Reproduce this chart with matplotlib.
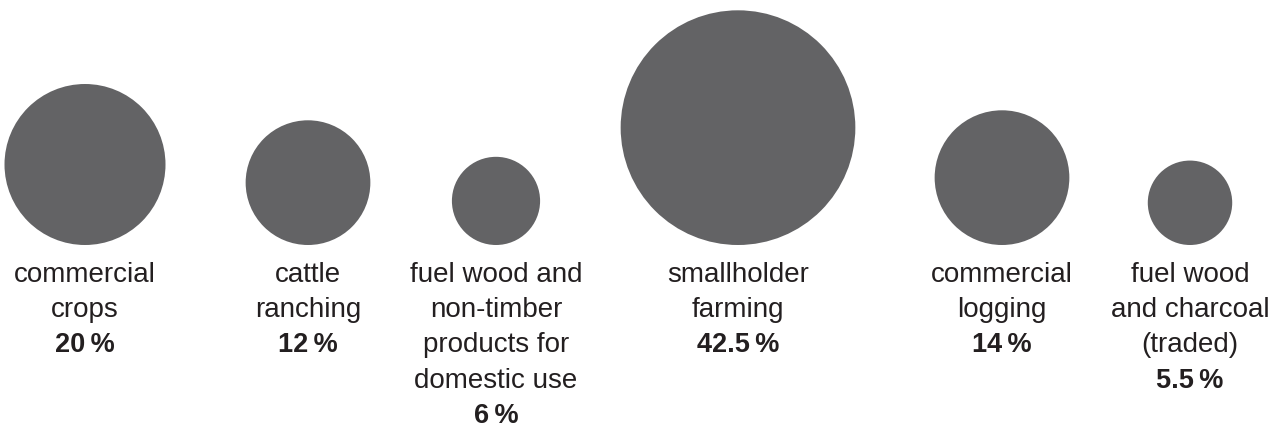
import numpy as np
import matplotlib.pyplot as plt
from matplotlib.patches import Circle

# share of deforestation by driver (circle area ~ value)
labels = [
    ["commercial", "crops"],
    ["cattle", "ranching"],
    ["fuel wood and", "non-timber", "products for", "domestic use"],
    ["smallholder", "farming"],
    ["commercial", "logging"],
    ["fuel wood", "and charcoal", "(traded)"],
]
values = [20, 12, 6, 42.5, 14, 5.5]
value_text = ["20", "12", "6", "42.5", "14", "5.5"]

# horizontal layout (pixel centres)
centers_x = [85, 308, 496, 738, 1002, 1190]

W, H = 1287, 430
grey = "#636365"
txt = "#231f20"
fonts = ["Liberation Sans", "DejaVu Sans"]
fs = 20

fig = plt.figure(figsize=(W / 100, H / 100), dpi=100)
ax = fig.add_axes([0, 0, 1, 1])
ax.set_xlim(0, W)
ax.set_ylim(H, 0)
ax.axis("off")

k = 18.0       # px radius per sqrt(unit)
base = 245     # common bottom line of the circles
line_h = 35.2

for x, v, lines, vt in zip(centers_x, values, labels, value_text):
    r = k * np.sqrt(v)
    ax.add_patch(Circle((x, base - r), r, facecolor=grey, edgecolor="none"))
    y = 282
    for line in lines:
        ax.text(x, y, line, ha="center", va="baseline", fontsize=fs,
                family=fonts, color=txt)
        y += line_h
    ax.text(x, y, vt + "\u2009%", ha="center", va="baseline", fontsize=fs - 0.5,
            family=fonts, fontweight="bold", color=txt)

fig.savefig("out.png", dpi=100)
